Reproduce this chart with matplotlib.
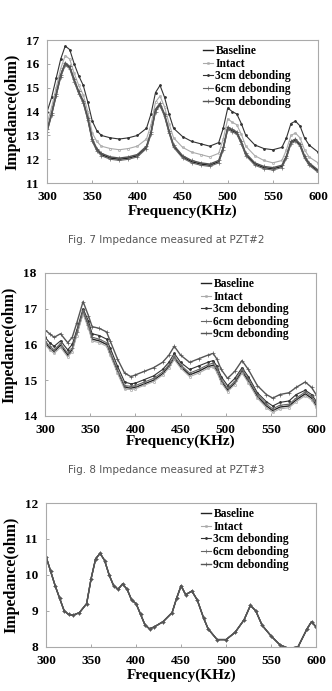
import matplotlib
matplotlib.use("Agg")
import matplotlib.pyplot as plt

labels = ["Baseline", "Intact", "3cm debonding", "6cm debonding", "9cm debonding"]

# ---- Fig. 7 (PZT#2) ----
f7 = [300, 305, 310, 315, 320, 325, 330, 335, 340, 345, 350, 355, 360, 370, 380, 390, 400, 410,
      415, 420, 425, 430, 435, 440, 450, 460, 470, 480, 490, 495, 500, 505, 510, 515, 520, 530,
      540, 550, 560, 565, 570, 575, 580, 585, 590, 600]
top7 = [14.0, 14.6, 15.4, 16.2, 16.75, 16.6, 16.0, 15.5, 15.1, 14.4, 13.6, 13.2, 13.0, 12.9, 12.85,
        12.9, 13.0, 13.3, 13.9, 14.8, 15.1, 14.6, 13.9, 13.3, 12.95, 12.75, 12.65, 12.55, 12.7, 13.3,
        14.15, 14.0, 13.9, 13.5, 13.0, 12.6, 12.45, 12.4, 12.5, 12.9, 13.5, 13.6, 13.4, 12.9, 12.6, 12.3]
mid7 = [13.5, 14.2, 15.0, 15.8, 16.35, 16.2, 15.6, 15.1, 14.7, 14.0, 13.1, 12.75, 12.55, 12.45, 12.4,
        12.45, 12.55, 12.85, 13.45, 14.4, 14.65, 14.2, 13.5, 12.9, 12.5, 12.3, 12.2, 12.1, 12.25, 12.85,
        13.7, 13.55, 13.45, 13.05, 12.55, 12.15, 11.95, 11.85, 11.95, 12.4, 13.0, 13.1, 12.9, 12.4, 12.1, 11.85]
low7 = [13.2, 13.9, 14.7, 15.5, 16.0, 15.85, 15.3, 14.8, 14.4, 13.7, 12.8, 12.4, 12.2, 12.05, 12.0,
        12.05, 12.15, 12.5, 13.1, 14.05, 14.3, 13.85, 13.15, 12.55, 12.1, 11.9, 11.8, 11.75, 11.9, 12.45,
        13.3, 13.2, 13.1, 12.7, 12.2, 11.8, 11.65, 11.6, 11.7, 12.1, 12.7, 12.8, 12.6, 12.1, 11.8, 11.5]
low7b = [13.15, 13.85, 14.65, 15.45, 15.95, 15.8, 15.25, 14.75, 14.35, 13.65, 12.75, 12.35, 12.15, 12.0, 11.95,
         12.0, 12.1, 12.45, 13.05, 14.0, 14.25, 13.8, 13.1, 12.5, 12.05, 11.85, 11.75, 11.7, 11.85, 12.4,
         13.25, 13.15, 13.05, 12.65, 12.15, 11.75, 11.6, 11.55, 11.65, 12.05, 12.65, 12.75, 12.55, 12.05, 11.75, 11.45]
low7c = [13.25, 13.95, 14.75, 15.55, 16.05, 15.9, 15.35, 14.85, 14.45, 13.75, 12.85, 12.45, 12.25, 12.1, 12.05,
         12.1, 12.2, 12.55, 13.15, 14.1, 14.35, 13.9, 13.2, 12.6, 12.15, 11.95, 11.85, 11.8, 11.95, 12.5,
         13.35, 13.25, 13.15, 12.75, 12.25, 11.85, 11.7, 11.65, 11.75, 12.15, 12.75, 12.85, 12.65, 12.15, 11.85, 11.55]

# ---- Fig. 8 (PZT#3) ----
f8 = [300, 305, 310, 317, 325, 330, 335, 342, 348, 352, 360, 368, 372, 380, 388, 395, 400, 410, 420,
      430, 437, 443, 450, 460, 470, 480, 486, 490, 495, 502, 510, 518, 525, 535, 545, 552, 560, 570,
      578, 588, 595, 600]
top8 = [16.4, 16.3, 16.2, 16.3, 16.05, 16.2, 16.6, 17.2, 16.8, 16.5, 16.45, 16.35, 16.1, 15.6, 15.2,
        15.1, 15.15, 15.25, 15.35, 15.5, 15.7, 15.95, 15.7, 15.5, 15.6, 15.7, 15.75, 15.6, 15.3, 15.05,
        15.25, 15.55, 15.3, 14.85, 14.6, 14.5, 14.6, 14.65, 14.8, 14.95, 14.8, 14.6]
mid8 = [16.2, 16.05, 15.95, 16.1, 15.85, 16.0, 16.4, 17.0, 16.65, 16.3, 16.25, 16.15, 15.9, 15.4, 14.95,
        14.9, 14.92, 15.02, 15.12, 15.3, 15.5, 15.75, 15.5, 15.3, 15.4, 15.5, 15.55, 15.4, 15.1, 14.85,
        15.05, 15.35, 15.1, 14.65, 14.4, 14.28, 14.38, 14.42, 14.6, 14.72, 14.6, 14.42]
low8 = [16.05, 15.9, 15.8, 15.98, 15.7, 15.85, 16.3, 16.9, 16.5, 16.15, 16.1, 16.0, 15.75, 15.25, 14.8,
        14.78, 14.8, 14.9, 15.0, 15.18, 15.38, 15.62, 15.38, 15.15, 15.25, 15.38, 15.42, 15.28, 14.98, 14.72,
        14.92, 15.25, 14.98, 14.55, 14.28, 14.15, 14.25, 14.28, 14.45, 14.62, 14.5, 14.3]
low8b = [16.0, 15.85, 15.75, 15.92, 15.65, 15.8, 16.25, 16.85, 16.45, 16.1, 16.05, 15.95, 15.7, 15.2, 14.75,
         14.74, 14.76, 14.86, 14.96, 15.14, 15.34, 15.58, 15.34, 15.1, 15.2, 15.33, 15.38, 15.23, 14.93, 14.68,
         14.88, 15.2, 14.93, 14.5, 14.23, 14.1, 14.2, 14.23, 14.4, 14.57, 14.45, 14.25]
low8c = [16.1, 15.95, 15.85, 16.03, 15.75, 15.9, 16.35, 16.95, 16.55, 16.2, 16.15, 16.05, 15.8, 15.3, 14.85,
         14.83, 14.85, 14.95, 15.05, 15.23, 15.43, 15.67, 15.43, 15.2, 15.3, 15.43, 15.48, 15.33, 15.03, 14.77,
         14.97, 15.3, 15.03, 14.6, 14.33, 14.2, 14.3, 14.33, 14.5, 14.67, 14.55, 14.35]

# ---- Fig. 9 (PZT#4) ----
f9 = [300, 305, 310, 315, 320, 325, 330, 337, 345, 350, 355, 360, 365, 370, 375, 380, 385, 390, 395,
      400, 405, 410, 415, 420, 430, 440, 445, 450, 455, 462, 468, 475, 480, 490, 500, 510, 520, 527,
      533, 540, 550, 560, 570, 580, 590, 595, 600]
v9 = [10.5, 10.1, 9.7, 9.35, 9.0, 8.9, 8.88, 8.95, 9.2, 9.9, 10.45, 10.6, 10.4, 10.0, 9.7, 9.6, 9.75,
      9.6, 9.3, 9.2, 8.9, 8.6, 8.5, 8.55, 8.7, 8.95, 9.35, 9.7, 9.45, 9.55, 9.3, 8.8, 8.5, 8.2, 8.2,
      8.4, 8.75, 9.15, 9.0, 8.6, 8.3, 8.05, 7.95, 8.0, 8.5, 8.7, 8.55]

styles = [
    dict(color="#222222", marker="", lw=1.0),
    dict(color="#aaaaaa", marker="o", ms=1.6, mfc="none", mew=0.5, lw=0.8),
    dict(color="#333333", marker=".", ms=2.0, lw=0.8),
    dict(color="#666666", marker="+", ms=2.2, mew=0.5, lw=0.8),
    dict(color="#555555", marker="+", ms=2.2, mew=0.5, lw=1.0),
]

panels = [
    dict(f=f7, ys=[top7, mid7, low7, low7b, low7c], order=[2, 1, 0, 3, 4], ylim=(11, 17),
         ticks=[11, 12, 13, 14, 15, 16, 17], rect=[0.142, 0.735, 0.816, 0.207],
         cap="Fig. 7 Impedance measured at PZT#2", capy=0.653, xly=-0.20),
    dict(f=f8, ys=[top8, mid8, low8, low8b, low8c], order=[4, 2, 0, 1, 3], ylim=(14, 18),
         ticks=[14, 15, 16, 17, 18], rect=[0.136, 0.398, 0.816, 0.207],
         cap="Fig. 8 Impedance measured at PZT#3", capy=0.320, xly=-0.18),
    dict(f=f9, ys=[v9, v9, v9, v9, v9], order=[0, 1, 2, 3, 4], ylim=(8, 12),
         ticks=[8, 9, 10, 11, 12], rect=[0.139, 0.064, 0.813, 0.208],
         cap=None, capy=None, xly=-0.195),
]

serif = ["Liberation Serif", "DejaVu Serif"]

fig = plt.figure(figsize=(3.32, 6.91), dpi=100)

for p in panels:
    ax = fig.add_axes(p["rect"])
    handles = [None] * 5
    for k, si in enumerate(p["order"]):
        h, = ax.plot(p["f"], p["ys"][k], **styles[si])
        handles[si] = h
    ax.set_xlim(300, 600)
    ax.set_ylim(*p["ylim"])
    ax.set_xticks([300, 350, 400, 450, 500, 550, 600])
    ax.set_yticks(p["ticks"])
    ax.tick_params(direction="in", length=2.5, width=0.6, color="#999999", pad=6)
    for lab in ax.get_xticklabels() + ax.get_yticklabels():
        lab.set_fontfamily(serif)
        lab.set_fontweight("bold")
        lab.set_fontsize(9.5)
    for s in ax.spines.values():
        s.set_color("#aaaaaa")
        s.set_linewidth(0.8)
    ax.set_ylabel("Impedance(ohm)", family=serif, weight="bold", fontsize=11.5, labelpad=4)
    ax.set_xlabel("Frequency(KHz)", family=serif, weight="bold", fontsize=11)
    ax.xaxis.label.set_va("center")
    ax.xaxis.set_label_coords(0.5, p["xly"])
    ax.legend(handles, labels, loc="upper right", bbox_to_anchor=(0.93, 1.02), frameon=False,
              prop=dict(family=serif, weight="bold", size=8.3), handlelength=0.9,
              handletextpad=0.2, labelspacing=0.05, borderpad=0.2)
    if p["cap"]:
        fig.text(0.5, p["capy"], p["cap"], ha="center", va="center", fontsize=7.5,
                 color="#555555", family=["DejaVu Sans"])

fig.savefig("out.png", dpi=100)
